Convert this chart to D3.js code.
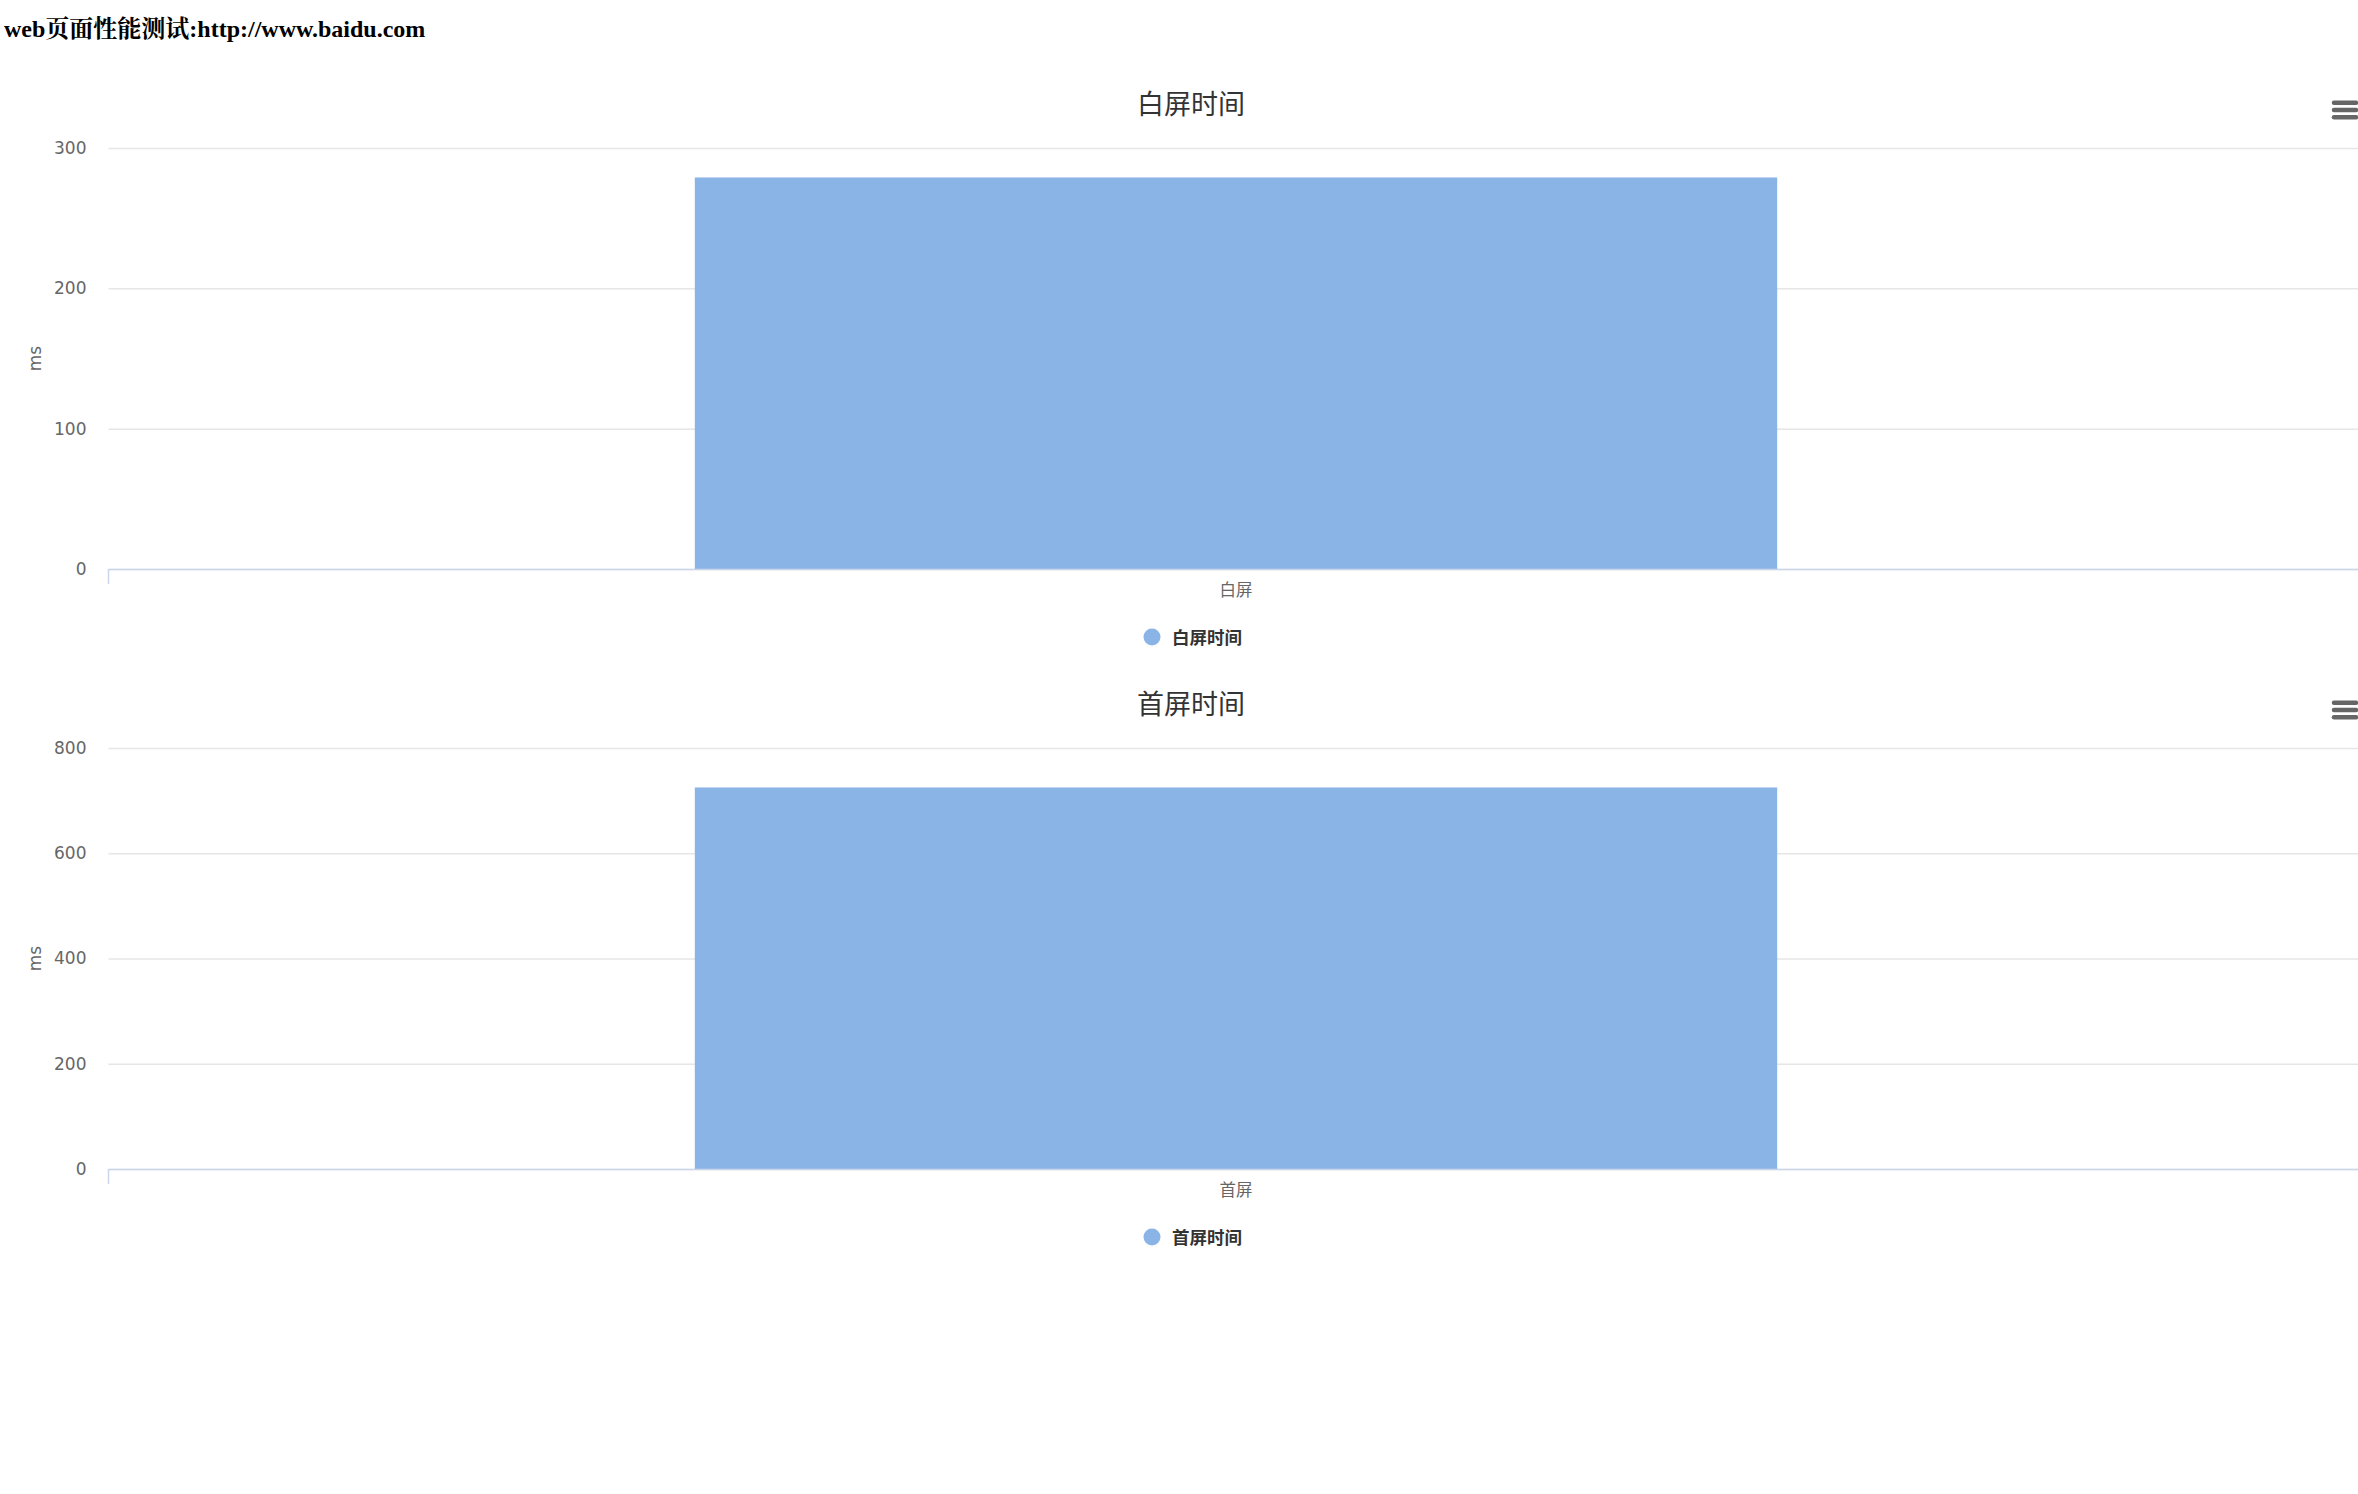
<!DOCTYPE html>
<html>
<head>
<meta charset="utf-8">
<script src="https://cdn.jsdelivr.net/npm/d3@7"></script>
<style>
  html, body { margin: 0; padding: 0; background: #fff; }
  svg { display: block; }
</style>
</head>
<body>
<svg id="chart" width="2358" height="1494"></svg>
<script>
// ---- data ----
const pageTitle = "web页面性能测试:http://www.baidu.com";
const chartTitles = ["白屏时间", "首屏时间"];
const categories1 = ["白屏"];
const values1 = [279];
const categories2 = ["首屏"];
const values2 = [725];
const yTicks1 = [0, 100, 200, 300];
const yTicks2 = [0, 200, 400, 600, 800];
const yAxisTitle = "ms";

const charts = [
  { title: chartTitles[0], cats: categories1, vals: values1, ticks: yTicks1, offset: 0 },
  { title: chartTitles[1], cats: categories2, vals: values2, ticks: yTicks2, offset: 600 }
];

// ---- layout ----
const svg = d3.select("#chart");
const plotLeft = 108.5, plotRight = 2363.5;
const plotTop = 148, plotBottom = 569;
const barColor = "#8ab3e6";
const numFont = "'DejaVu Sans', 'Noto Sans CJK SC', sans-serif";
const cjkFont = "'Noto Sans CJK SC', 'DejaVu Sans', sans-serif";

svg.append("text")
  .attr("x", 4).attr("y", 37)
  .attr("font-family", "'Liberation Serif', 'Noto Serif CJK SC', 'Noto Sans CJK SC', serif")
  .attr("font-weight", "bold")
  .attr("font-size", 24)
  .attr("fill", "#000")
  .text(pageTitle);

charts.forEach(c => {
  const g = svg.append("g").attr("transform", `translate(0,${c.offset})`);
  const y = d3.scaleLinear().domain([0, d3.max(c.ticks)]).range([plotBottom, plotTop]);
  const x = d3.scaleBand().domain(c.cats).range([plotLeft, plotRight]).padding(0);

  // title
  g.append("text")
    .attr("x", 1191).attr("y", 102.5)
    .attr("text-anchor", "middle")
    .attr("dominant-baseline", "central")
    .attr("font-family", cjkFont)
    .attr("font-size", 27)
    .attr("fill", "#333")
    .text(c.title);

  // menu icon
  const menu = g.append("g");
  [102.7, 110, 117.3].forEach(yy => {
    menu.append("line")
      .attr("x1", 2334).attr("x2", 2356)
      .attr("y1", yy).attr("y2", yy)
      .attr("stroke", "#666").attr("stroke-width", 4.5)
      .attr("stroke-linecap", "round");
  });

  // gridlines
  const yAxis = d3.axisLeft(y).tickValues(c.ticks).tickSize(-(2358 - plotLeft)).tickPadding(22);
  const ya = g.append("g").attr("transform", `translate(${plotLeft},0)`).call(yAxis);
  ya.select(".domain").remove();
  ya.selectAll(".tick line").attr("stroke", "#e6e6e6").attr("stroke-width", 1.5);
  ya.selectAll(".tick text")
    .attr("font-family", numFont).attr("font-size", 17).attr("fill", "#666");

  // y axis title
  g.append("text")
    .attr("transform", `translate(35,${(plotTop + plotBottom) / 2}) rotate(-90)`)
    .attr("text-anchor", "middle")
    .attr("dominant-baseline", "central")
    .attr("font-family", numFont)
    .attr("font-size", 17)
    .attr("fill", "#666")
    .text(yAxisTitle);

  // bars (Highcharts-like group/point padding)
  const bw = x.bandwidth();
  const groupPad = 0.2, pointPad = 0.1;
  const groupW = bw * (1 - 2 * groupPad);
  const barW = groupW * (1 - 2 * pointPad);
  g.selectAll("rect.bar").data(c.cats.map((k, i) => ({ k, v: c.vals[i] })))
    .enter().append("rect")
    .attr("class", "bar")
    .attr("x", d => x(d.k) + (bw - barW) / 2)
    .attr("width", barW)
    .attr("y", d => y(d.v))
    .attr("height", d => y(0) - y(d.v))
    .attr("fill", barColor);

  // x axis
  const xAxis = d3.axisBottom(x).tickSize(0).tickPadding(15);
  const xa = g.append("g").attr("transform", `translate(0,${plotBottom})`).call(xAxis);
  xa.select(".domain").remove();
  xa.selectAll(".tick line").remove();
  xa.selectAll(".tick text")
    .attr("font-family", cjkFont).attr("font-size", 16.5).attr("fill", "#666");
  g.append("line")
    .attr("x1", plotLeft).attr("x2", 2358)
    .attr("y1", plotBottom + 0.5).attr("y2", plotBottom + 0.5)
    .attr("stroke", "#ccd6eb").attr("stroke-width", 1.5);
  g.append("line")
    .attr("x1", plotLeft).attr("x2", plotLeft)
    .attr("y1", plotBottom).attr("y2", plotBottom + 15)
    .attr("stroke", "#ccd6eb").attr("stroke-width", 1.5);

  // legend
  g.append("circle")
    .attr("cx", 1152).attr("cy", 637).attr("r", 8.5)
    .attr("fill", barColor);
  g.append("text")
    .attr("x", 1172).attr("y", 636.5)
    .attr("dominant-baseline", "central")
    .attr("font-family", cjkFont)
    .attr("font-weight", "bold")
    .attr("font-size", 17.5)
    .attr("fill", "#333")
    .text(c.title);
});
</script>
</body>
</html>
